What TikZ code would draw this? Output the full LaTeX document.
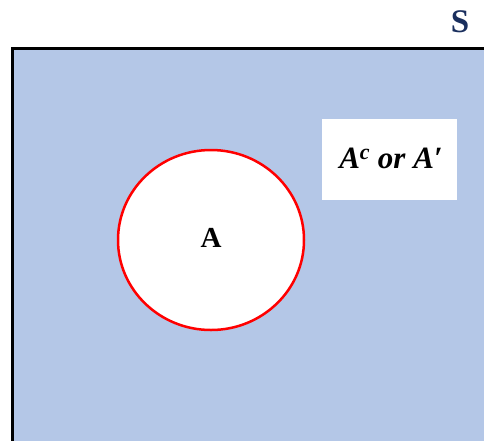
\documentclass[tikz,border=0pt]{standalone}
\usepackage{fontspec}
\setmainfont{Liberation Serif}
\usetikzlibrary{shapes.geometric}
\definecolor{setblue}{HTML}{B4C7E7}
\definecolor{navy}{HTML}{1A2F5E}
\newcommand{\bigA}{\fontsize{29}{31}\selectfont\bfseries}
\newcommand{\bigS}{\fontsize{33}{35}\selectfont\bfseries}
\newcommand{\compfont}{\fontsize{31}{33}\selectfont\bfseries\itshape}
\begin{document}
\begin{tikzpicture}[x=1pt,y=-1pt,
  universe/.style={draw=black,line width=2.6pt,fill=setblue},
  setA/.style={draw=red,line width=2.5pt,fill=white,ellipse,minimum width=186pt,minimum height=180pt,inner sep=0pt},
  compbox/.style={fill=white,minimum width=135pt,minimum height=81pt,inner sep=0pt}]
\useasboundingbox (0,0) rectangle (484,440);
\draw[universe] (12.5,48.5) rectangle (520,480);
\node[setA] (a) at (211,240) {};
\node[font=\bigA] (alabel) at (211,238) {A};
\node[compbox] (comp) at (389.5,159.5) {};
\node[font=\compfont] (ctext) at (391,158) {A\textsuperscript{\fontsize{22}{22}\selectfont c} or A′};
\node[text=navy,font=\bigS] (s) at (460,22) {S};
\end{tikzpicture}
\end{document}
